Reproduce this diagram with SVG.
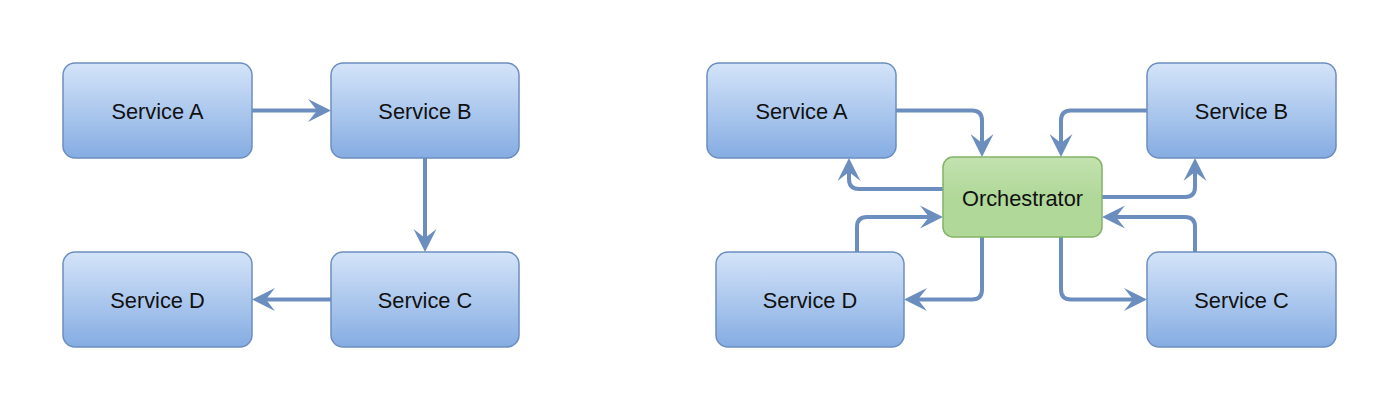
<svg xmlns="http://www.w3.org/2000/svg" width="1400" height="410" viewBox="0 0 1400 410">
<style>
.svc{fill:url(#blueGrad);stroke:#6c8ebf;stroke-width:1.5}
.orch{fill:url(#greenGrad);stroke:#82b366;stroke-width:1.5}
.lbl{font-family:"Liberation Sans",Arial,sans-serif;font-size:21.8px;fill:#111;text-anchor:middle}
.edge{fill:none;stroke:#6c8ebf;stroke-width:4;marker-end:url(#arrow)}
</style>
<defs>
<linearGradient id="blueGrad" x1="0" y1="0" x2="0" y2="1">
<stop offset="0" stop-color="#d4e4f9"/>
<stop offset="1" stop-color="#85ace2"/>
</linearGradient>
<linearGradient id="greenGrad" x1="0" y1="0" x2="0" y2="1">
<stop offset="0" stop-color="#c3e2b0"/>
<stop offset="0.5" stop-color="#b0d899"/>
<stop offset="1" stop-color="#b0d899"/>
</linearGradient>
<marker id="arrow" markerUnits="userSpaceOnUse" viewBox="-24 -12 25 24" markerWidth="25" markerHeight="24" refX="-14" refY="0" orient="auto">
<path d="M0,0 L-23,-11.5 L-14,0 L-23,11.5 Z" fill="#6c8ebf"/>
</marker>
</defs>
<rect width="1400" height="410" fill="#fff"/>
<g id="connectors">
<path class="edge" d="M252,110.5 H317"/>
<path class="edge" d="M425,158 V238"/>
<path class="edge" d="M331,299.5 H266"/>
<path class="edge" d="M896,110.5 H972 Q982,110.5 982,120.5 V143"/>
<path class="edge" d="M1147,110.5 H1071 Q1061,110.5 1061,120.5 V143"/>
<path class="edge" d="M943,189 H859 Q849,189 849,179 V172"/>
<path class="edge" d="M857,252 V227 Q857,217 867,217 H929"/>
<path class="edge" d="M982,237 V289.5 Q982,299.5 972,299.5 H918"/>
<path class="edge" d="M1061,237 V289.5 Q1061,299.5 1071,299.5 H1133"/>
<path class="edge" d="M1102,197 H1185 Q1195,197 1195,187 V172"/>
<path class="edge" d="M1195,252 V227 Q1195,217 1185,217 H1116"/>
</g>
<g id="left-service-a"><rect class="svc" x="63" y="63" width="189" height="95" rx="12"/><text class="lbl" x="157.5" y="118.5">Service A</text></g>
<g id="left-service-b"><rect class="svc" x="331" y="63" width="188" height="95" rx="12"/><text class="lbl" x="425" y="118.5">Service B</text></g>
<g id="left-service-c"><rect class="svc" x="331" y="252" width="188" height="95" rx="12"/><text class="lbl" x="425" y="307.5">Service C</text></g>
<g id="left-service-d"><rect class="svc" x="63" y="252" width="189" height="95" rx="12"/><text class="lbl" x="157.5" y="307.5">Service D</text></g>
<g id="right-service-a"><rect class="svc" x="707" y="63" width="189" height="95" rx="12"/><text class="lbl" x="801.5" y="118.5">Service A</text></g>
<g id="right-service-b"><rect class="svc" x="1147" y="63" width="189" height="95" rx="12"/><text class="lbl" x="1241.5" y="118.5">Service B</text></g>
<g id="right-service-c"><rect class="svc" x="1147" y="252" width="189" height="95" rx="12"/><text class="lbl" x="1241.5" y="307.5">Service C</text></g>
<g id="right-service-d"><rect class="svc" x="716" y="252" width="188" height="95" rx="12"/><text class="lbl" x="810" y="307.5">Service D</text></g>
<g id="orchestrator"><rect class="orch" x="943" y="157" width="159" height="80" rx="10"/><text class="lbl" x="1022.5" y="205.5">Orchestrator</text></g>
</svg>
